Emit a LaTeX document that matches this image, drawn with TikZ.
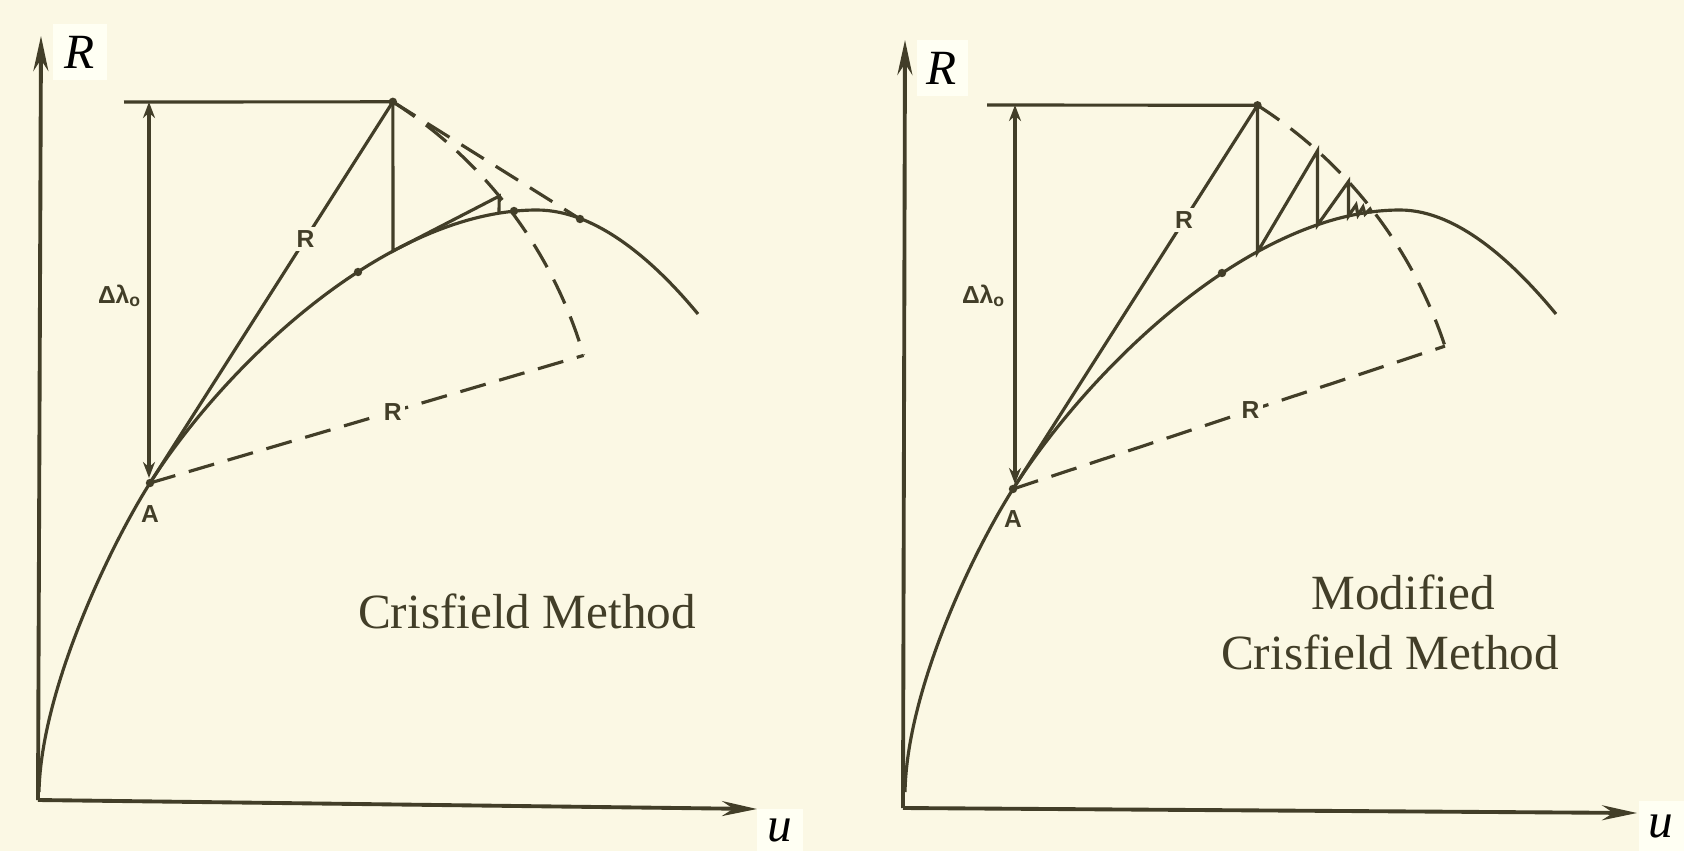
\documentclass[tikz,border=0pt]{standalone}
\usepackage{fontspec}
\setmainfont{Liberation Serif}
\setsansfont{Liberation Sans}
\usetikzlibrary{arrows.meta,calc}
\definecolor{paper}{RGB}{251,248,228}
\definecolor{boxw}{RGB}{255,255,243}
\definecolor{ink}{RGB}{66,62,40}

\begin{document}
\begin{tikzpicture}[x=0.01cm,y=-0.01cm,line width=0.9pt,color=ink,
  >={Stealth[length=1.6mm,width=1.2mm]},
  axisline/.style={line width=1.1pt,-{Stealth[length=3.5mm,width=1.5mm]}},
  dashline/.style={dash pattern=on 7.5pt off 4pt},
  lbl/.style={font=\sffamily\bfseries\fontsize{7}{8}\selectfont,inner sep=1pt},
  onpath/.style={lbl,fill=paper},
  ptdot/.style={circle,fill=ink,inner sep=0pt,minimum size=2.4pt},
  axlbl/.style={fill=boxw,text=black,font=\fontsize{14}{16}\selectfont\itshape,inner sep=0pt},
  methodtxt/.style={font=\fontsize{14}{16}\selectfont,text=ink,anchor=base}]
  \fill[paper] (0,0) rectangle (1684,851);
  \useasboundingbox (0,0) rectangle (1684,851);

  % izquierda: Crisfield
  \draw[axisline] (38,800) -- (41,36);
  \draw[axisline] (38,800) -- (757,809);
  \node[axlbl,minimum width=15.6pt,minimum height=16.2pt] (lR) at (80,52) {R};
  \node[axlbl,minimum width=12.8pt,minimum height=12.2pt] (lu) at (780,830) {u};
  \coordinate (lA) at (150,483);
  \coordinate (lK) at (537,210);
  \draw (39,792) .. controls (41,690) and (110,546) .. (lA)
    .. controls (225.2,364.8) and (387,210) .. (lK)
    .. controls (600,210) and (660,268) .. (698,314);
  \coordinate (lT) at ($(lA)+(-57.5:452)$);
  \coordinate (lE) at ($(lA)+(-16.4:452)$);
  \coordinate (lP2) at ($(lA)+(-39.4:452)$);
  \coordinate (lC1) at (393,251);
  \coordinate (lC2) at (499,213);
  \coordinate (lQ) at (580,219);
  \coordinate (lM1) at (358,272);
  \coordinate (lM2) at (514,211);
  \coordinate (lH) at (124,102);
  \coordinate (lD1) at (149,102);
  \coordinate (lD2) at (149,478);
  \draw (lH) -- (lT);
  \draw[<->] (lD1) -- (lD2);
  \node[lbl,anchor=east] (lDl) at (147,296) {Δλ\textsubscript{o}};
  \draw (lA) -- node[onpath,pos=0.64] (lRt) {R} (lT);
  \draw (lT) -- (lC1) -- (lP2) -- (lC2);
  \draw[dashline] (lT) -- (lQ);
  \draw[dashline] plot[domain=-57.5:-16.4,samples=40] ({150+452*cos(\x)},{483+452*sin(\x)});
  \draw[dashline] (lA) -- node[onpath,pos=0.56] (lRc) {R} (lE);
  \foreach \p in {lA,lT,lQ,lM1,lM2} \node[ptdot] (d\p) at (\p) {};
  \node[lbl] (lAl) at (150,514) {A};
  \node[methodtxt] (lname) at (527,628) {Crisfield Method};

  % derecha: Crisfield modificado
  \draw[axisline] (903,808) -- (905,40);
  \draw[axisline] (903,808) -- (1637,813);
  \node[axlbl,minimum width=14.5pt,minimum height=16.2pt] (rR) at (942,68) {R};
  \node[axlbl,minimum width=12.8pt,minimum height=14.2pt] (ru) at (1661,826) {u};
  \coordinate (rA) at (1013,489);
  \coordinate (rK) at (1400,210);
  \draw (905,792) .. controls (907,690) and (972.7,552.3) .. (rA)
    .. controls (1088.2,370.8) and (1250,210) .. (rK)
    .. controls (1460,210) and (1518,268) .. (1556,314);
  \coordinate (rT) at ($(rA)+(-57.5:455)$);
  \coordinate (rE) at ($(rA)+(-18.3:455)$);
  \coordinate (rP2) at ($(rA)+(-48:455)$);
  \coordinate (rP3) at ($(rA)+(-42.5:455)$);
  \coordinate (rC1) at (1257.5,252);
  \coordinate (rC2) at (1317.5,225);
  \coordinate (rC3) at (1348.5,216);
  \coordinate (rM1) at (1222,273);
  \coordinate (rH) at (987,105);
  \coordinate (rD1) at (1015,105);
  \coordinate (rD2) at (1015,484);
  \draw (rH) -- (rT);
  \draw[<->] (rD1) -- (rD2);
  \node[lbl,anchor=east] (rDl) at (1011,296) {Δλ\textsubscript{o}};
  \draw (rA) -- node[onpath,pos=0.70] (rRt) {R} (rT);
  \draw (rT) -- (rC1) -- (rP2) -- (rC2) -- (rP3) -- (rC3) -- (1356,205) -- (1358,215) -- (1363,207) -- (1365,214) -- (1370,209) -- (1372,213);
  \draw[dashline] plot[domain=-57.5:-18.3,samples=40] ({1013+455*cos(\x)},{489+455*sin(\x)});
  \draw[dashline] (rA) -- node[onpath,pos=0.55] (rRc) {R} (rE);
  \foreach \p in {rA,rT,rM1} \node[ptdot] (d\p) at (\p) {};
  \node[lbl] (rAl) at (1013,519) {A};
  \node[methodtxt] (rname1) at (1403,609) {Modified};
  \node[methodtxt] (rname2) at (1390,669) {Crisfield Method};
\end{tikzpicture}
\end{document}
